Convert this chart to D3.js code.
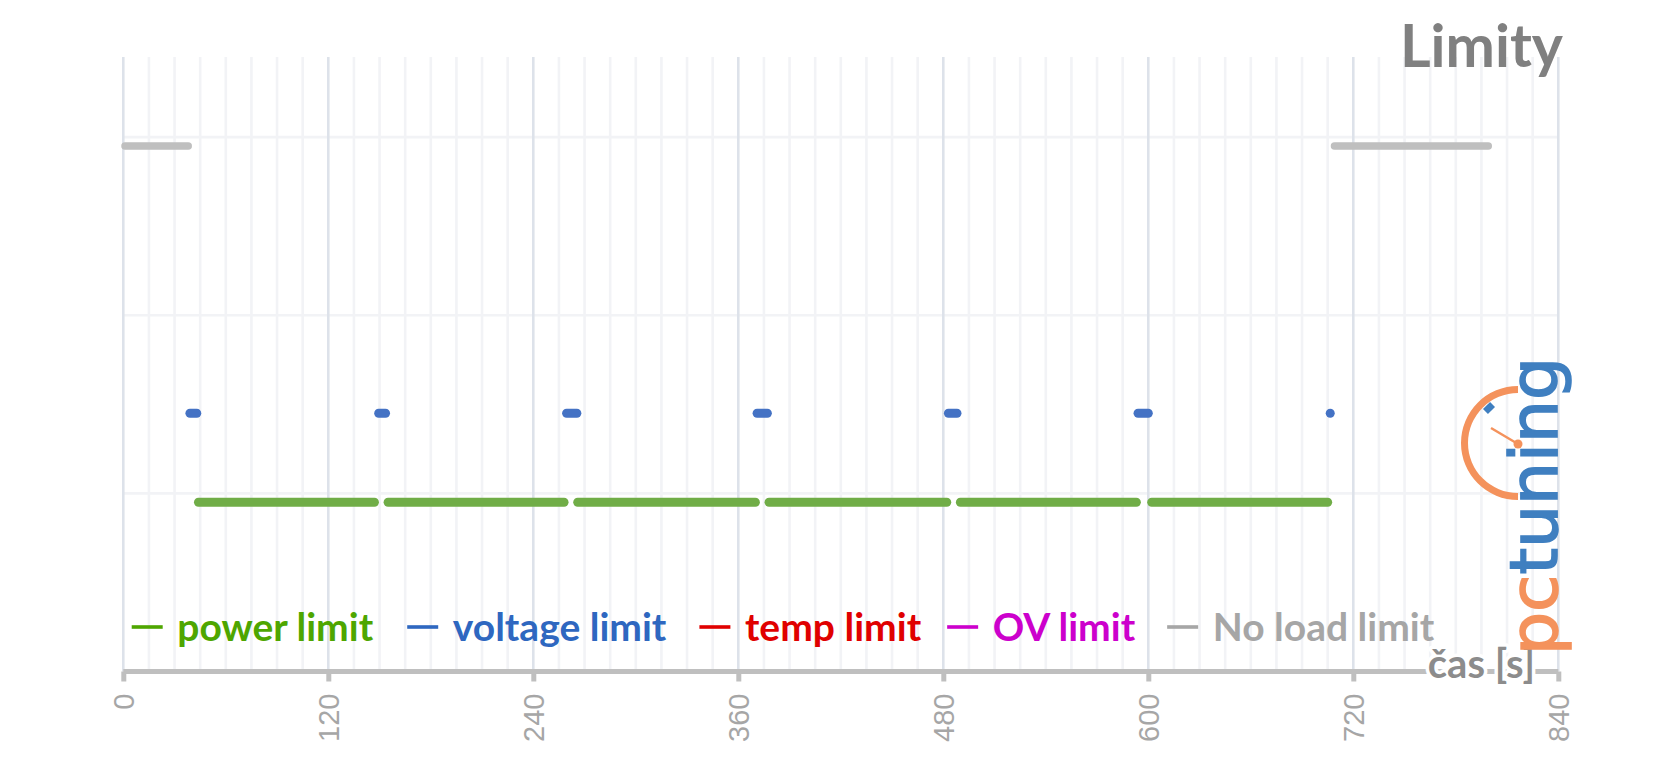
<!DOCTYPE html>
<html>
<head>
<meta charset="utf-8">
<title>Limity</title>
<script src="https://d3js.org/d3.v7.min.js"></script>
<style>
    body { margin: 0; background: #fff; }
    svg { display: block; }
    .tick-label { font-family: 'Liberation Sans', Arial, sans-serif; font-size: 29px; fill: #a6a6a6; }
    .legend-text { font-family: Lato, 'Open Sans', sans-serif; font-weight: bold; font-size: 39px; }
    .title { font-family: Lato, 'Open Sans', sans-serif; font-weight: bold; font-size: 59px; fill: #808080; }
    .axis-title { font-family: Lato, 'Open Sans', sans-serif; font-weight: bold; font-size: 40px; fill: #8c8c8c; }
</style>
</head>
<body>
<div id="chart"></div>
<script>
// time axis [s]
var xTicks = [0, 120, 240, 360, 480, 600, 720, 840];
var yGrid = [1, 2, 3];

// series names, levels and the time spans [start, end] where the limit is active
var seriesNames = ["power limit", "voltage limit", "temp limit", "OV limit", "No load limit"];
var seriesLevels = [0.95, 1.45, null, null, 2.95];
var powerLimit = [[44, 147], [155, 258], [266, 370], [378, 482], [490, 593], [602, 705]];
var voltageLimit = [[39, 43], [149.5, 153.5], [259.5, 265.5], [371, 377], [483, 488], [594, 600], [706.5, 706.5]];
var tempLimit = [];
var ovLimit = [];
var noLoadLimit = [[1, 38], [709, 799]];

var lineColors = ["#70ad47", "#4472c4", "#ff0000", "#cc00cc", "#bfbfbf"];
var textColors = ["#4ea600", "#2e67c0", "#e00000", "#cc00cc", "#a6a6a6"];
var lineWidths = [9, 9, 9, 9, 7.5];
var legendGaps = [34, 33, 26, 32, 0];

var spans = [powerLimit, voltageLimit, tempLimit, ovLimit, noLoadLimit];

var width = 1657, height = 772;

var svg = d3.select('#chart')
    .append('svg')
    .attr('width', width)
    .attr('height', height);

var x = d3.scaleLinear().domain([0, 840]).range([123.3, 1558.3]);
var y = d3.scaleLinear().domain([0, 3.45]).range([671.5, 57]);

// minor + major vertical grid
var minor = d3.range(0, 841, 15).filter(function(d) { return d % 120 !== 0; });
svg.append('g').selectAll('line')
    .data(minor)
    .enter().append('line')
    .attr('x1', x).attr('x2', x)
    .attr('y1', y(3.45)).attr('y2', y(0))
    .style('stroke', '#f2f3f6')
    .style('stroke-width', '2.6px');

svg.append('g').selectAll('line')
    .data(yGrid)
    .enter().append('line')
    .attr('x1', x(0)).attr('x2', x(840))
    .attr('y1', y).attr('y2', y)
    .style('stroke', '#f2f3f6')
    .style('stroke-width', '2.6px');

svg.append('g').selectAll('line')
    .data(xTicks)
    .enter().append('line')
    .attr('x1', x).attr('x2', x)
    .attr('y1', y(3.45)).attr('y2', y(0))
    .style('stroke', '#dde2ea')
    .style('stroke-width', '2.6px');

// x axis
var xAxis = d3.axisBottom(x).tickValues(xTicks).tickSize(10).tickFormat('');
var gx = svg.append('g')
    .attr('transform', 'translate(0,' + y(0) + ')')
    .call(xAxis);
gx.select('.domain').attr('d', 'M' + x(0) + ',0H' + x(840)).style('stroke', '#bfbfbf').style('stroke-width', '5px');
gx.selectAll('.tick line').style('stroke', '#bfbfbf').style('stroke-width', '5px');

gx.selectAll('.tick').append('text')
    .attr('class', 'tick-label')
    .attr('transform', 'translate(0,22) rotate(-90)')
    .attr('text-anchor', 'end')
    .attr('dy', '0.36em')
    .attr('fill', null)
    .text(function(d) { return d; });

// series
var line = d3.line()
    .x(function(d) { return x(d[0]); })
    .y(function(d) { return y(d[1]); });

spans.forEach(function(list, i) {
    if (seriesLevels[i] === null) return;
    svg.append('g').selectAll('path')
        .data(list)
        .enter().append('path')
        .attr('d', function(s) { return line([[s[0], seriesLevels[i]], [s[1], seriesLevels[i]]]); })
        .style('fill', 'none')
        .style('stroke', lineColors[i])
        .style('stroke-width', lineWidths[i] + 'px')
        .style('stroke-linecap', 'round');
});

// legend
var legend = svg.append('g').attr('transform', 'translate(0,627)');
var lx = 131.7;
seriesNames.forEach(function(name, i) {
    legend.append('line')
        .attr('x1', lx).attr('x2', lx + 31)
        .attr('y1', 0).attr('y2', 0)
        .style('stroke', textColors[i])
        .style('stroke-width', '3.6px');
    var t = legend.append('text')
        .attr('class', 'legend-text')
        .attr('x', lx + 45.6)
        .attr('dy', '0.35em')
        .style('fill', textColors[i])
        .text(name);
    lx += 45.6 + t.node().getComputedTextLength() + legendGaps[i];
});

// axis title, white halo hides the axis line under the letters
svg.append('text')
    .attr('class', 'axis-title')
    .attr('x', 1535)
    .attr('y', 678.3)
    .attr('text-anchor', 'end')
    .style('stroke', '#fff')
    .style('stroke-width', '7px')
    .style('paint-order', 'stroke')
    .style('stroke-linejoin', 'round')
    .text('čas [s]');

// title
svg.append('text')
    .attr('class', 'title')
    .attr('x', 1563)
    .attr('y', 66.7)
    .attr('text-anchor', 'end')
    .text('Limity');

// pctuning logo
var logo = svg.append('g');
var gauge = d3.arc()
    .innerRadius(50)
    .outerRadius(57)
    .startAngle(-Math.PI)
    .endAngle(0);
logo.append('path')
    .attr('transform', 'translate(1518,443)')
    .attr('d', gauge)
    .style('fill', '#f4925c');
logo.append('line')
    .attr('x1', 1518).attr('y1', 444)
    .attr('x2', 1491).attr('y2', 428)
    .style('stroke', '#f4925c')
    .style('stroke-width', '2.5px');
logo.append('circle')
    .attr('cx', 1518).attr('cy', 444).attr('r', 4.5)
    .style('fill', '#f4925c');
logo.append('rect')
    .attr('x', -5).attr('y', -3.5).attr('width', 10).attr('height', 7)
    .attr('transform', 'translate(1489,408) rotate(-45)')
    .style('fill', '#3f7fc0');
var logoText = logo.append('text')
    .attr('transform', 'translate(1557,655) rotate(-90)')
    .style('font-family', "'DejaVu Sans', sans-serif")
    .style('font-size', '66px')
    .style('stroke-width', '1.6px')
    .attr('textLength', 298)
    .attr('lengthAdjust', 'spacingAndGlyphs');
logoText.append('tspan').style('fill', '#f4925c').style('stroke', '#f4925c').text('pc');
logoText.append('tspan').style('fill', '#3f7fc0').style('stroke', '#3f7fc0').text('tuning');
</script>
</body>
</html>
